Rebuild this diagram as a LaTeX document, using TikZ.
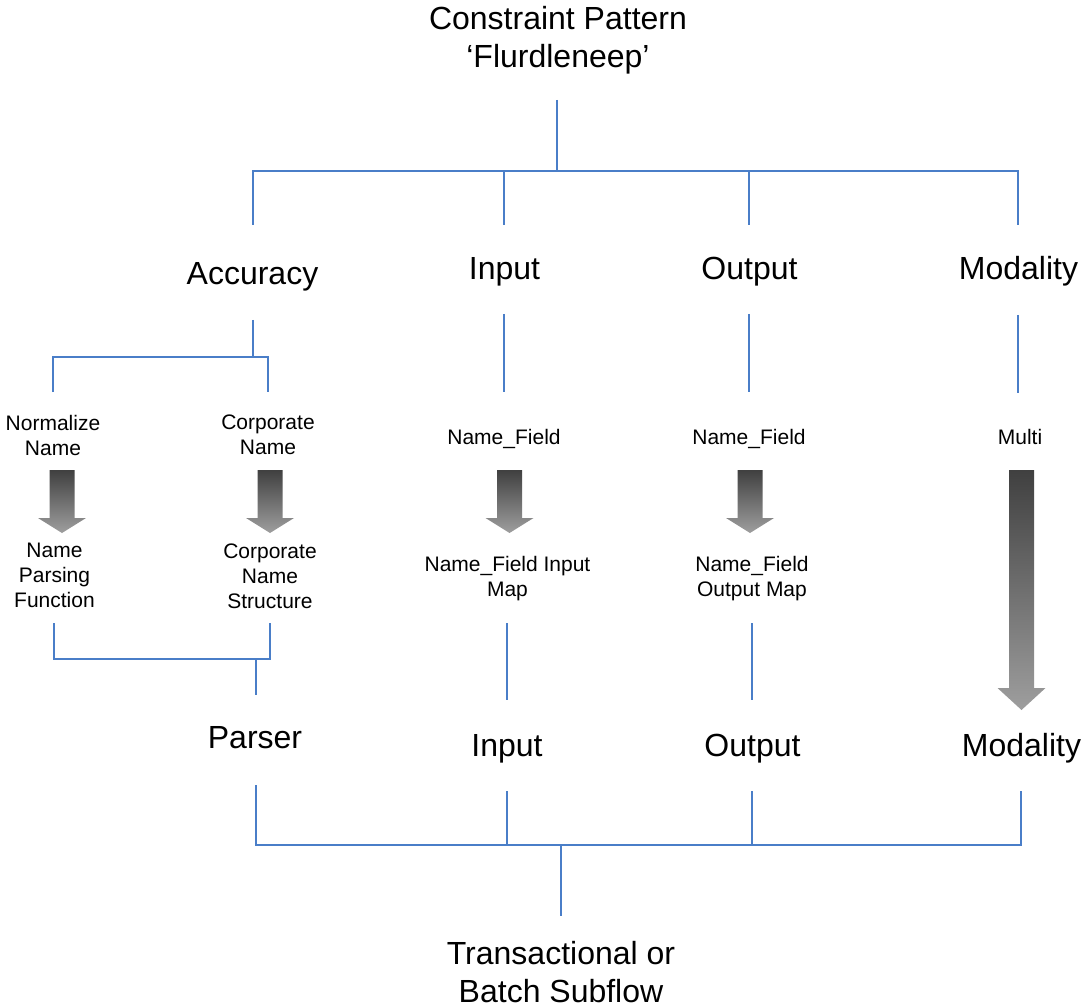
\documentclass[tikz,border=0pt]{standalone}
\usepackage{fontspec}
\setmainfont{Liberation Sans}
\definecolor{linkblue}{RGB}{74,126,200}
\definecolor{arrowtop}{RGB}{64,64,64}
\definecolor{arrowbot}{RGB}{158,158,158}
\newcommand\blkarrow[4]{%
  \path[blockarrow] (#1-12.5,#2) -- (#1+12.5,#2) -- (#1+12.5,#3) -- (#1+24,#3)
    -- (#1,#4) -- (#1-24,#3) -- (#1-12.5,#3) -- cycle;}
\begin{document}
\begin{tikzpicture}[x=1pt,y=-1pt,
  big/.style={font=\fontsize{32}{38}\selectfont,align=center,inner sep=0pt},
  small/.style={font=\fontsize{21}{25}\selectfont,align=center,inner sep=0pt},
  conn/.style={draw=linkblue,line width=1.3pt},
  blockarrow/.style={top color=arrowtop,bottom color=arrowbot,draw=none}]
\useasboundingbox (0,0) rectangle (1082,1008);

% text nodes
\node[big] (title) at (558,39.9) {Constraint Pattern\\‘Flurdleneep’};
\node[big,anchor=base] (acc) at (252.5,285) {Accuracy};
\node[big,anchor=base] (in1) at (504.5,280) {Input};
\node[big,anchor=base] (out1) at (749.5,280) {Output};
\node[big,anchor=base] (mod1) at (1018.5,280) {Modality};
\node[small] (norm) at (53,435) {Normalize\\Name};
\node[small] (corp) at (268,435) {Corporate\\Name};
\node[small,anchor=base] (nf1) at (504,444) {Name\_Field};
\node[small,anchor=base] (nf2) at (749,444) {Name\_Field};
\node[small,anchor=base] (multi) at (1020,444) {Multi};
\node[small] (npf) at (54.5,575.5) {Name\\Parsing\\Function};
\node[small] (cns) at (270,576.5) {Corporate\\Name\\Structure};
\node[small] (nfim) at (507.5,579) {Name\_Field Input\\Map};
\node[small] (nfom) at (752,579) {Name\_Field\\Output Map};
\node[big,anchor=base] (parser) at (255,748) {Parser};
\node[big,anchor=base] (in2) at (507,756) {Input};
\node[big,anchor=base] (out2) at (752.5,756) {Output};
\node[big,anchor=base] (mod2) at (1021.5,756) {Modality};
\node[big] (tbs) at (561,972.5) {Transactional or\\Batch Subflow};

% top tree
\coordinate (tt) at (557,100);
\coordinate (tj) at (557,171);
\coordinate (accN) at (253,225);
\coordinate (inN) at (504,225);
\coordinate (outN) at (749,225);
\coordinate (modN) at (1018,225);
\draw[conn] (tt) -- (tj);
\draw[conn] (accN) |- (tj) -| (modN);
\draw[conn] (inN) -- (inN |- tj);
\draw[conn] (outN) -- (outN |- tj);

% accuracy subtree
\coordinate (accS) at (253,320);
\coordinate (accJ) at (253,357);
\coordinate (normN) at (53,392);
\coordinate (corpN) at (268,392);
\draw[conn] (accS) -- (accJ);
\draw[conn] (normN) |- (accJ) -| (corpN);

% input / output / modality top links
\coordinate (in1S) at (504,314);
\coordinate (nf1N) at (504,392);
\coordinate (out1S) at (749,314);
\coordinate (nf2N) at (749,392);
\coordinate (mod1S) at (1018,315);
\coordinate (multiN) at (1018,393);
\draw[conn] (in1S) -- (nf1N);
\draw[conn] (out1S) -- (nf2N);
\draw[conn] (mod1S) -- (multiN);

% block arrows
\blkarrow{62}{470}{518}{533}
\blkarrow{270}{470}{518}{533}
\blkarrow{509.5}{470}{518}{533}
\blkarrow{750}{470}{518}{533}
\blkarrow{1021.5}{470}{688}{710}

% parser merge
\coordinate (npfS) at (54,623);
\coordinate (cnsS) at (270,623);
\coordinate (pJ) at (256,659);
\coordinate (parN) at (256,695);
\draw[conn] (npfS) |- (pJ) -| (cnsS);
\draw[conn] (pJ) -- (parN);

\coordinate (nfimS) at (507,623);
\coordinate (in2N) at (507,700);
\coordinate (nfomS) at (752,623);
\coordinate (out2N) at (752,700);
\draw[conn] (nfimS) -- (in2N);
\draw[conn] (nfomS) -- (out2N);

% bottom tree
\coordinate (parS) at (256,785);
\coordinate (in2S) at (507,791);
\coordinate (out2S) at (752,791);
\coordinate (mod2S) at (1021,791);
\coordinate (bJ) at (561,845);
\coordinate (tbsN) at (561,916);
\draw[conn] (parS) |- (bJ) -| (mod2S);
\draw[conn] (in2S) -- (in2S |- bJ);
\draw[conn] (out2S) -- (out2S |- bJ);
\draw[conn] (bJ) -- (tbsN);
\end{tikzpicture}
\end{document}
